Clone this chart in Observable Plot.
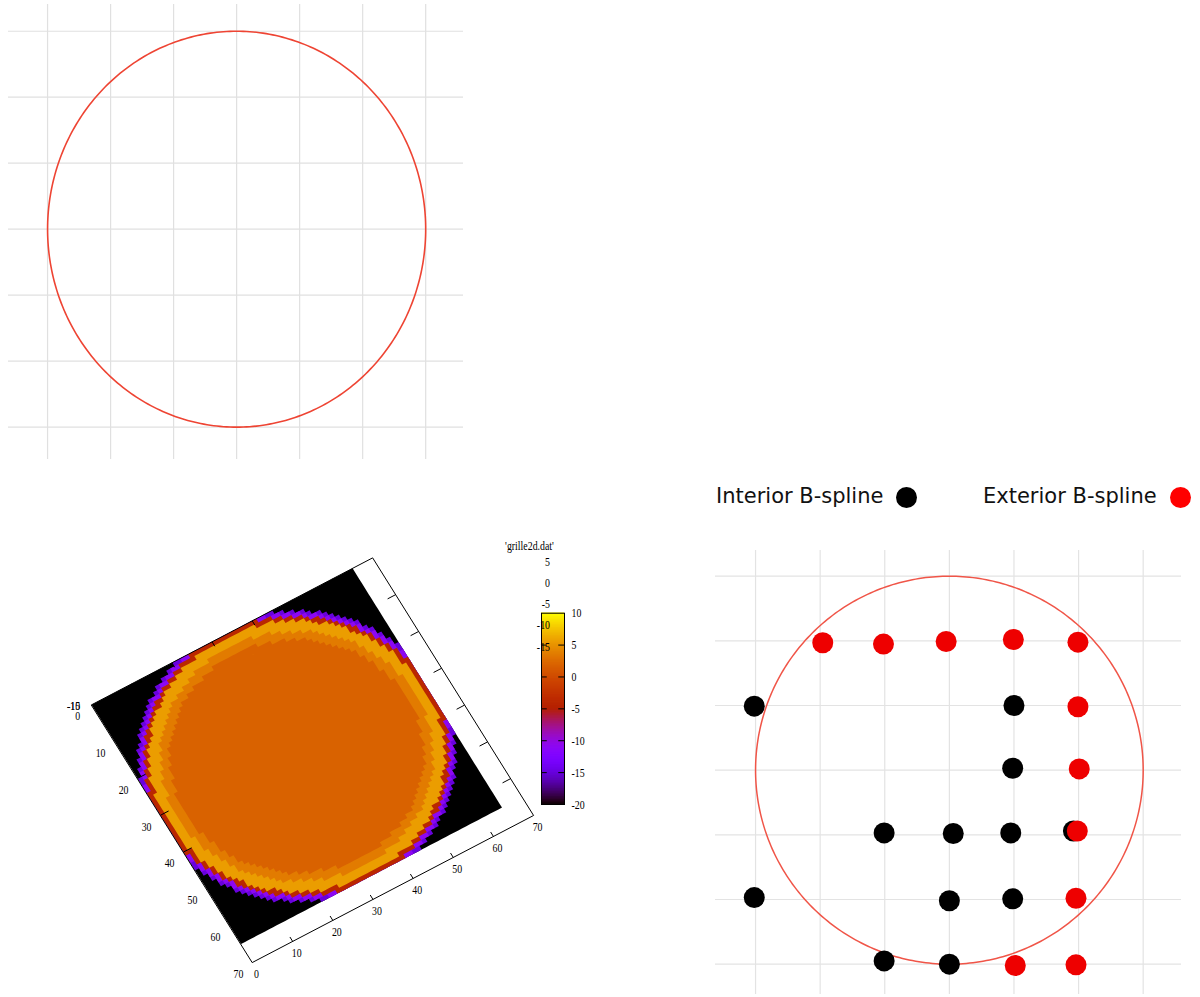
<!DOCTYPE html>
<html>
<head>
<meta charset="utf-8">
<script src="https://cdn.jsdelivr.net/npm/d3@7"></script>
<script src="https://cdn.jsdelivr.net/npm/@observablehq/plot@0.6"></script>
<style>
  html, body { margin: 0; padding: 0; background: #fff; }
  #page { position: relative; width: 1200px; height: 997px; overflow: hidden; background: #fff; }
  #page > * { position: absolute; }
  .legend-item { display: flex; align-items: center; gap: 13px; font: 21px "DejaVu Sans", sans-serif; line-height: 24px; color: #111; white-space: nowrap; }
  .legend-dot { width: 21px; height: 21px; border-radius: 50%; display: inline-block; position: relative; top: 1px; }
</style>
</head>
<body>
<div id="page"></div>
<script>
// ---------- circle with B-spline control points ----------
const gridTicks = [-3, -2, -1, 0, 1, 2, 3];
const circleCenterX = 0, circleCenterY = 0, circleRadius = 3;

const interiorX = [-3.02, 1.00, 0.98, -1.01, 0.06, 0.95, 1.92, -3.02, 0.00, 0.98, -1.01, 0.00];
const interiorY = [0.99, 1.00, 0.03, -0.97, -0.98, -0.97, -0.94, -1.97, -2.02, -1.99, -2.95, -3.00];
const exteriorX = [-1.96, -1.02, -0.05, 0.99, 1.99, 1.99, 2.01, 1.98, 1.96, 1.02, 1.96];
const exteriorY = [1.97, 1.95, 1.99, 2.02, 1.98, 0.98, 0.02, -0.94, -1.98, -3.02, -3.01];
const legendLabels = ["Interior B-spline", "Exterior B-spline"];
const legendColors = ["#000000", "#ff0000"];

// ---------- grille2d.dat heat map ----------
const gridCells = 65;                 // cells per side
const axisMax = 70;                   // axis range 0..70 on both grid axes
const axisTicks = [0, 10, 20, 30, 40, 50, 60, 70];
const innerTicks = [10, 20, 30, 40, 50, 60];
const diskCenter = [32.5, 32.5];
const diskRadius = 33.0;
const bandEdges = [-1.4, -0.7, 0, 1, 3.5, 5.5];    // distance inside the boundary, in cells
const bandValues = [-20, -15, -11, -4, 5.5, 3.5, 1.8];
const colorDomain = [-20, 10];
const colorbarTicks = [-20, -15, -10, -5, 0, 5, 10];
const colorbarInnerTicks = [-15, -10, -5, 0, 5];
const zTicks = [5, 0, -5, -10, -15];
const cornerZLabels = ["-10", "-15"];
const dataTitle = "'grille2d.dat'";

const page = document.getElementById("page");
function place(el, left, top) {
  el.style.position = "absolute";
  el.style.left = left + "px";
  el.style.top = top + "px";
  page.appendChild(el);
  return el;
}

// circle outline in data units
const circleOutline = d3.range(0, 361, 1).map(a => ({
  x: circleCenterX + circleRadius * Math.cos(a * Math.PI / 180),
  y: circleCenterY + circleRadius * Math.sin(a * Math.PI / 180)
}));

// ---------- top-left: circle on grid ----------
place(Plot.plot({
  width: 470, height: 465,
  marginLeft: 8, marginRight: 7, marginTop: 4, marginBottom: 6,
  x: {domain: [-3.62, 3.60], axis: null},
  y: {domain: [-3.49, 3.405], axis: null},
  marks: [
    Plot.ruleX(gridTicks, {stroke: "#e0e0e0", strokeWidth: 1.2}),
    Plot.ruleY(gridTicks, {stroke: "#e0e0e0", strokeWidth: 1.2}),
    Plot.line(circleOutline, {x: "x", y: "y", stroke: "#ee4433", strokeWidth: 1.6})
  ]
}), 0, 0);

// ---------- bottom-right: legend ----------
legendLabels.forEach((label, k) => {
  const item = document.createElement("div");
  item.className = "legend-item";
  const span = document.createElement("span");
  span.textContent = label;
  const dot = document.createElement("span");
  dot.className = "legend-dot";
  dot.style.background = legendColors[k];
  item.append(span, dot);
  place(item, k === 0 ? 716 : 983, 484);
});

// ---------- bottom-right: control points ----------
const interiorPts = interiorX.map((x, k) => ({x, y: interiorY[k]}));
const exteriorPts = exteriorX.map((x, k) => ({x, y: exteriorY[k]}));
place(Plot.plot({
  width: 490, height: 457,
  marginLeft: 15, marginRight: 9, marginTop: 10, marginBottom: 3,
  x: {domain: [-3.62, 3.593], axis: null},
  y: {domain: [-3.469, 3.397], axis: null},
  marks: [
    Plot.ruleX(gridTicks, {stroke: "#e3e3e3", strokeWidth: 1.2}),
    Plot.ruleY(gridTicks, {stroke: "#e3e3e3", strokeWidth: 1.2}),
    Plot.line(circleOutline, {x: "x", y: "y", stroke: "#f05548", strokeWidth: 1.5}),
    Plot.dot(interiorPts, {x: "x", y: "y", r: 10.5, fill: "#000000"}),
    Plot.dot(exteriorPts, {x: "x", y: "y", r: 10.5, fill: "#ee0000"})
  ]
}), 700, 540);

// ---------- bottom-left: rotated pm3d map of grille2d.dat ----------
// gnuplot default palette (rgbformulae 7,5,15)
function gnuplotPalette(t) {
  t = Math.max(0, Math.min(1, t));
  const r = Math.sqrt(t), g = t * t * t, b = Math.max(0, Math.sin(2 * Math.PI * t));
  return `rgb(${Math.round(255 * r)},${Math.round(255 * g)},${Math.round(255 * b)})`;
}
const colorScale = {type: "linear", domain: colorDomain, interpolate: gnuplotPalette, clamp: true};

// band of one grid cell, by distance to the disk / grid boundary
function cellBand(i, j) {
  const ci = i + 0.5, cj = j + 0.5;
  const dDisk = diskRadius - Math.hypot(ci - diskCenter[0], cj - diskCenter[1]);
  const dBox = Math.min(ci, gridCells - ci, cj, gridCells - cj);
  return d3.bisectRight(bandEdges, Math.min(dDisk, dBox));
}
// nested layers: layer k holds every cell whose band is k or deeper
const layers = bandValues.map((value, k) => {
  const squares = [];
  for (let i = 0; i < gridCells; ++i) {
    for (let j = 0; j < gridCells; ++j) {
      if (cellBand(i, j) >= k) squares.push([[[i, j], [i + 1, j], [i + 1, j + 1], [i, j + 1], [i, j]]]);
    }
  }
  return {type: "Feature", properties: {value}, geometry: {type: "MultiPolygon", coordinates: squares}};
});
const border = {type: "Polygon", coordinates: [[[0, 0], [axisMax, 0], [axisMax, axisMax], [0, axisMax], [0, 0]]]};

// view of the grid plane: origin and the screen step of one unit along each grid axis
const view = {ox: 91.1, oy: 184.3, ix: 4.015, iy: -2.099, jx: 2.299, jy: 3.68};
const gridView = d3.geoTransform({
  point(i, j) {
    this.stream.point(view.ox + i * view.ix + j * view.jx, view.oy + i * view.iy + j * view.jy);
  }
});
const tickLenI = 2.0, tickLenJ = 1.2;
const gnuStyle = {background: "transparent", fontFamily: "'Liberation Serif', serif", fontSize: "13px", color: "black"};

function condense(svg, sx) {
  svg.querySelectorAll("text").forEach(t => {
    t.setAttribute("transform", (t.getAttribute("transform") || "") + ` scale(${sx},1)`);
  });
  return svg;
}

place(condense(Plot.plot({
  width: 600, height: 477, margin: 0,
  projection: gridView,
  color: colorScale,
  style: gnuStyle,
  marks: [
    Plot.geo(layers, {fill: d => d.properties.value}),
    Plot.geo([border], {fill: "none", stroke: "black", strokeWidth: 1}),
    Plot.link(innerTicks, {x1: 0, y1: d => d, x2: tickLenI, y2: d => d, stroke: "black"}),
    Plot.link(innerTicks, {x1: axisMax, y1: d => d, x2: axisMax - tickLenI, y2: d => d, stroke: "black"}),
    Plot.link(innerTicks, {x1: d => d, y1: 0, x2: d => d, y2: tickLenJ, stroke: "black"}),
    Plot.link(innerTicks, {x1: d => d, y1: axisMax, x2: d => d, y2: axisMax - tickLenJ, stroke: "black"}),
    Plot.text(axisTicks, {x: 0, y: d => d, text: d => String(d), dx: -14, dy: 11.3}),
    Plot.text(axisTicks, {x: d => d, y: axisMax, text: d => String(d), dx: 4, dy: 11.5}),
    Plot.text(cornerZLabels, {x: 0, y: 0, text: d => d, dx: -18, dy: 1.5})
  ]
}), 0.76), 0, 520);

// colour box: overlapping slices so no seams show
const cbStep = 0.25;
const cbSteps = d3.range(colorDomain[0], colorDomain[1], cbStep);
place(condense(Plot.plot({
  width: 80, height: 215,
  marginLeft: 21, marginRight: 36, marginTop: 12.7, marginBottom: 11,
  x: {domain: [0, 1], axis: null},
  y: {domain: colorDomain, axis: null},
  color: colorScale,
  style: gnuStyle,
  marks: [
    Plot.rect(cbSteps, {x1: 0, x2: 1, y1: d => d, y2: d => Math.min(colorDomain[1], d + 2 * cbStep), fill: d => d + cbStep / 2}),
    Plot.ruleY(colorbarInnerTicks, {x1: 0, x2: 0.25, stroke: "black"}),
    Plot.ruleY(colorbarInnerTicks, {x1: 0.75, x2: 1, stroke: "black"}),
    Plot.frame({stroke: "black"}),
    Plot.axisY(colorbarTicks, {anchor: "right", tickSize: 0, tickPadding: 7, tickFormat: d => String(d)})
  ]
}), 0.76), 520, 600);

// z labels and data title
place(condense(Plot.plot({
  width: 60, height: 130,
  marginLeft: 8.5, marginRight: 10.5, marginTop: 31, marginBottom: 14,
  x: {axis: null},
  y: {domain: [-15, 5], axis: null},
  style: gnuStyle,
  marks: [
    Plot.text(zTicks, {y: d => d, text: d => String(d), frameAnchor: "right", textAnchor: "end"}),
    Plot.text([dataTitle], {frameAnchor: "top", dy: -21})
  ]
}), 0.76), 500, 530);
</script>
</body>
</html>
